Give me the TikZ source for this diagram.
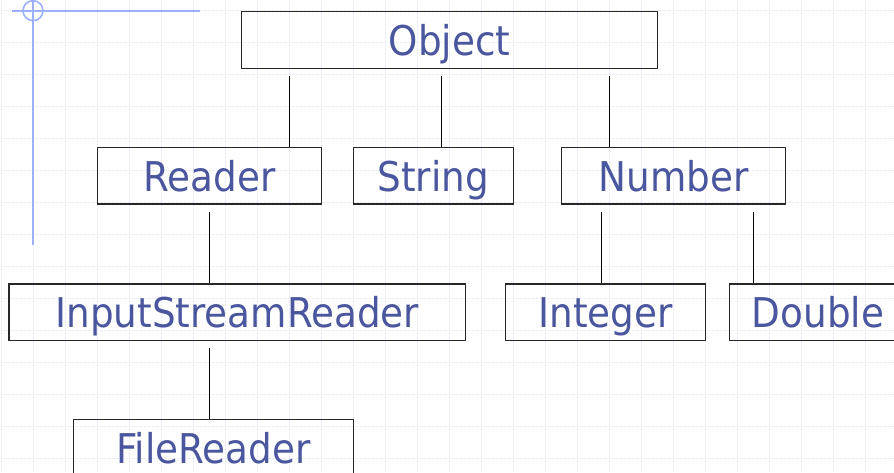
\documentclass[tikz,border=0pt]{standalone}
\usepackage{fontspec}
\setmainfont{DejaVu Sans}[FakeStretch=0.91]
\definecolor{txtblue}{RGB}{74,86,158}
\definecolor{gridc}{RGB}{234,236,250}
\definecolor{decorc}{RGB}{157,176,255}
\definecolor{boxc}{RGB}{40,40,40}
\begin{document}
\begin{tikzpicture}[x=1pt,y=-1pt,
  cls/.style={draw=boxc, line width=1.5pt, inner sep=0pt, minimum height=56.8pt,
    text height=31pt, text depth=0pt, text=txtblue,
    font=\fontsize{41}{41}\selectfont},
  link/.style={draw=black, line width=1.2pt},
  gridl/.style={draw=gridc, line width=0.9pt, dash pattern=on 2.5pt off 1.5pt},
  decor/.style={draw=decorc, line width=1.6pt}]
\useasboundingbox (0,0) rectangle (894,472);
\clip (0,0) rectangle (894,472);
\fill[white] (0,0) rectangle (894,472);
% grid
\foreach \k in {0,...,27} { \draw[gridl] (1.5+32*\k,0) -- (1.5+32*\k,472); }
\foreach \k in {0,...,14} { \draw[gridl] (0,10.7+32*\k) -- (894,10.7+32*\k); }
% decoration
\draw[decor] (12,10.7) -- (200,10.7);
\draw[decor] (33,0) -- (33,245);
\draw[decor] (33,10.7) circle[radius=10];
% nodes
\node[cls, minimum width=416.4pt] (obj) at (449.5,40) {Object};
\node[cls, minimum width=224pt] (rdr) at (209.3,175.7) {Reader};
\node[cls, minimum width=160pt] (str) at (433.3,175.7) {String};
\node[cls, minimum width=224.4pt] (num) at (673.5,175.7) {Number};
\node[cls, minimum width=456.7pt] (isr) at (237.3,312.2) {InputStreamReader};
\node[cls, minimum width=200.4pt] (intg) at (605.5,312.2) {Integer};
\node[cls, minimum width=177.4pt] (dbl) at (818,312.2) {Double};
\node[cls, minimum width=280pt] (frd) at (213.3,448) {FileReader};
% connector columns
\coordinate (c1) at (289.3,0);
\coordinate (c2) at (441.3,0);
\coordinate (c3) at (609.3,0);
\coordinate (c4) at (209.3,0);
\coordinate (c5) at (601.3,0);
\coordinate (c6) at (753.3,0);
% connectors
\draw[link] ([yshift=-7pt]obj.south -| c1) -- (rdr.north -| c1);
\draw[link] ([yshift=-7pt]obj.south -| c2) -- (str.north -| c2);
\draw[link] ([yshift=-7pt]obj.south -| c3) -- (num.north -| c3);
\draw[link] ([yshift=-7pt]rdr.south -| c4) -- (isr.north -| c4);
\draw[link] ([yshift=-7pt]isr.south -| c4) -- (frd.north -| c4);
\draw[link] ([yshift=-7pt]num.south -| c5) -- (intg.north -| c5);
\draw[link] ([yshift=-7pt]num.south -| c6) -- (dbl.north -| c6);
\end{tikzpicture}
\end{document}
